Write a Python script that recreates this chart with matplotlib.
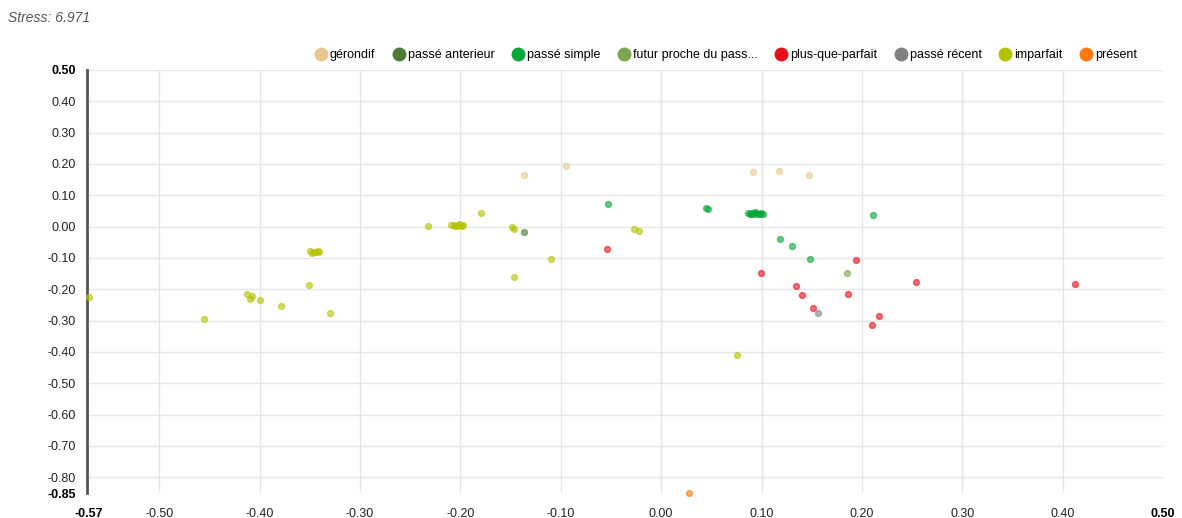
import matplotlib
matplotlib.use("Agg")
import matplotlib.pyplot as plt
from matplotlib.lines import Line2D

plt.rcParams['font.family'] = ['Liberation Sans', 'DejaVu Sans']

# MDS coordinates per verb tense
categories = ["gérondif", "passé anterieur", "passé simple", "futur proche du pass...",
              "plus-que-parfait", "passé récent", "imparfait", "présent"]
colors = ["#e9c88f", "#4e7a32", "#06a83a", "#7aa64f", "#e8101a", "#808080", "#b4c300", "#f97a10"]

gerondif_x = [-0.137, -0.095, 0.0915, 0.117, 0.147]
gerondif_y = [0.166, 0.193, 0.173, 0.177, 0.165]

anterieur_x = [-0.137]
anterieur_y = [-0.018]

simple_x = [-0.053, 0.0446, 0.0462, 0.087, 0.089, 0.091, 0.093, 0.095, 0.097, 0.099, 0.101,
            0.090, 0.094, 0.098, 0.211, 0.118, 0.130, 0.148]
simple_y = [0.072, 0.061, 0.056, 0.043, 0.041, 0.044, 0.042, 0.045, 0.041, 0.043, 0.042,
            0.040, 0.046, 0.040, 0.038, -0.040, -0.063, -0.102]

futur_x = [0.185]
futur_y = [-0.147]

pqp_x = [-0.054, 0.099, 0.134, 0.140, 0.186, 0.151, 0.194, 0.2166, 0.210, 0.2535, 0.412]
pqp_y = [-0.071, -0.149, -0.189, -0.218, -0.214, -0.259, -0.107, -0.286, -0.313, -0.176, -0.184]

recent_x = [0.156]
recent_y = [-0.277]

imparfait_x = [-0.570, -0.455, -0.413, -0.408, -0.410, -0.400, -0.379, -0.351, -0.330,
               -0.350, -0.348, -0.346, -0.344, -0.342, -0.341,
               -0.232, -0.209, -0.206, -0.203, -0.200, -0.198, -0.197, -0.205, -0.201,
               -0.179, -0.149, -0.147, -0.110, -0.147, -0.027, -0.022, 0.076]
imparfait_y = [-0.224, -0.295, -0.216, -0.220, -0.231, -0.235, -0.252, -0.185, -0.276,
               -0.078, -0.083, -0.080, -0.082, -0.079, -0.080,
               0.001, 0.004, 0.006, 0.003, 0.005, 0.002, 0.004, 0.001, 0.007,
               0.043, -0.001, -0.006, -0.103, -0.161, -0.006, -0.014, -0.411]

present_x = [0.028]
present_y = [-0.850]

series_x = [gerondif_x, anterieur_x, simple_x, futur_x, pqp_x, recent_x, imparfait_x, present_x]
series_y = [gerondif_y, anterieur_y, simple_y, futur_y, pqp_y, recent_y, imparfait_y, present_y]

x_ticks = [-0.57, -0.50, -0.40, -0.30, -0.20, -0.10, 0.00, 0.10, 0.20, 0.30, 0.40, 0.50]
y_ticks = [0.50, 0.40, 0.30, 0.20, 0.10, 0.00, -0.10, -0.20, -0.30, -0.40, -0.50, -0.60,
           -0.70, -0.80, -0.85]

fig = plt.figure(figsize=(11.82, 5.18), dpi=100)
ax = fig.add_axes([87 / 1182, 1 - 493 / 518, (1163 - 87) / 1182, (493 - 70) / 518])

for xs, ys, c in zip(series_x, series_y, colors):
    ax.scatter(xs, ys, s=18, color=c, alpha=0.6, edgecolors=c, linewidths=1.0,
               zorder=3, clip_on=False)

ax.set_xlim(-0.572, 0.50)
ax.set_ylim(-0.85, 0.50)

ax.set_xticks(x_ticks)
ax.set_xticklabels([f"{v:.2f}" for v in x_ticks])
ax.set_yticks(y_ticks)
ax.set_yticklabels([f"{v:.2f}" for v in y_ticks])

ax.tick_params(axis='both', length=0, labelsize=9, colors="#222222")
ax.tick_params(axis='x', pad=11)
ax.tick_params(axis='y', pad=8)
for lab in (ax.get_xticklabels()[0], ax.get_xticklabels()[-1],
            ax.get_yticklabels()[0], ax.get_yticklabels()[-1]):
    lab.set_fontweight('bold')
    lab.set_color('black')

grid_x = [t for t in x_ticks if t not in (-0.57, 0.50)]
grid_y = [t for t in y_ticks if t not in (0.50, -0.85)]
for gx in grid_x:
    ax.axvline(gx, color="#e6e6e6", lw=1, zorder=0)
for gy in grid_y:
    ax.axhline(gy, color="#e6e6e6", lw=1, zorder=0)
ax.axhline(0.50, color="#e6e6e6", lw=1, zorder=0)

for side in ("top", "right", "bottom"):
    ax.spines[side].set_visible(False)
ax.spines["left"].set_color("#555555")
ax.spines["left"].set_linewidth(2)

handles = [Line2D([], [], marker='o', linestyle='none', markersize=9,
                  markerfacecolor=c, markeredgecolor=c) for c in colors]
fig.legend(handles, categories, loc='center right', bbox_to_anchor=(1142 / 1182, 1 - 55 / 518),
           ncol=8, frameon=False, fontsize=9, handletextpad=0.0, columnspacing=1.2,
           handlelength=1.4, borderaxespad=0)

fig.text(8 / 1182, 1 - 18 / 518, "Stress: 6.971", fontsize=10, style='italic',
         color="#555555", ha='left', va='center')

fig.savefig("out.png", dpi=100)
